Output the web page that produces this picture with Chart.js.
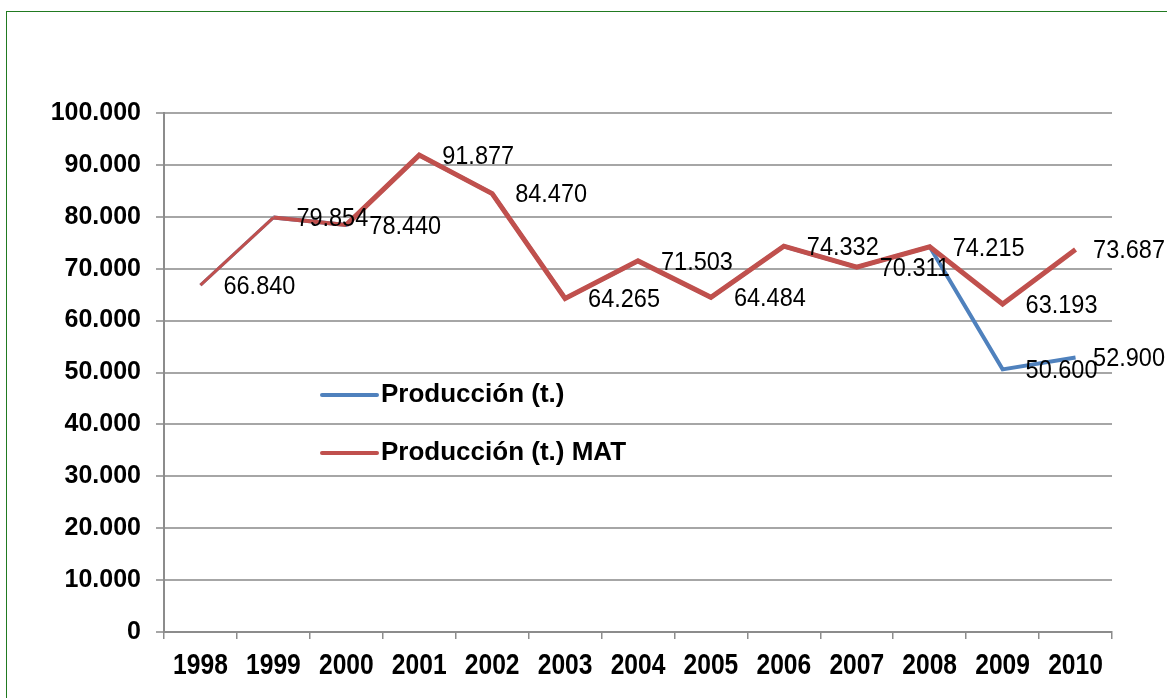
<!DOCTYPE html>
<html>
<head>
<meta charset="utf-8">
<script src="https://cdn.jsdelivr.net/npm/chart.js@4/dist/chart.umd.min.js"></script>
<style>
  html, body { margin: 0; padding: 0; background: #fff; overflow: hidden; }
  .frame { position: absolute; left: 6px; top: 11px; width: 1200px; height: 720px; border: 1px solid #217a21; }
  #chart { position: absolute; left: 0; top: 0; }
</style>
</head>
<body>
<div class="frame"></div>
<canvas id="chart" width="1167" height="698"></canvas>
<script>
/* Data */
const years = ["1998", "1999", "2000", "2001", "2002", "2003", "2004", "2005", "2006", "2007", "2008", "2009", "2010"];
const produccion = [66840, 79854, 78440, 91877, 84470, 64265, 71503, 64484, 74332, 70311, 74215, 50600, 52900];
const produccionMat = [66840, 79854, 78440, 91877, 84470, 64265, 71503, 64484, 74332, 70311, 74215, 63193, 73687];
const yTicks = [0, 10000, 20000, 30000, 40000, 50000, 60000, 70000, 80000, 90000, 100000];

const seriesNames = ["Producción (t.)", "Producción (t.) MAT"];
const blue = "#4f81bd";
const red = "#c0504d";

function fmt(v) {
  return String(v).replace(/\B(?=(\d{3})+(?!\d))/g, ".");
}

/* Value labels next to points */
const valueLabels = {
  id: "valueLabels",
  afterDatasetsDraw(chart) {
    const ctx = chart.ctx;
    const sx = 0.94;
    ctx.save();
    ctx.font = "25px 'Liberation Sans', Arial, sans-serif";
    ctx.fillStyle = "#000";
    ctx.textAlign = "left";
    ctx.textBaseline = "middle";
    chart.data.datasets.forEach((ds, i) => {
      const meta = chart.getDatasetMeta(i);
      ds.labelIdx.forEach((k) => {
        const pt = meta.data[k];
        const txt = fmt(ds.data[k]);
        const w = ctx.measureText(txt).width * sx;
        const x = Math.min(pt.x + 23, chart.width - 2 - w);
        const y = pt.y + 2;
        ctx.save();
        ctx.translate(x, y);
        ctx.scale(sx, 1);
        ctx.fillText(txt, 0, 0);
        ctx.restore();
      });
    });
    ctx.restore();
  },
};

/* Narrow bold year labels under the x axis */
const yearLabels = {
  id: "yearLabels",
  afterDraw(chart) {
    const ctx = chart.ctx;
    const xs = chart.scales.x;
    ctx.save();
    ctx.font = "bold 30px 'Liberation Sans', Arial, sans-serif";
    ctx.fillStyle = "#000";
    ctx.textAlign = "center";
    ctx.textBaseline = "middle";
    years.forEach((yr, i) => {
      ctx.save();
      ctx.translate(xs.getPixelForTick(i), chart.chartArea.bottom + 34);
      ctx.scale(0.82, 1);
      ctx.fillText(yr, 0, 0);
      ctx.restore();
    });
    ctx.restore();
  },
};

/* Legend drawn inside the plot */
const innerLegend = {
  id: "innerLegend",
  afterDraw(chart) {
    const ctx = chart.ctx;
    const a = chart.chartArea;
    const x0 = a.left + 158;
    const rows = [a.top + 282, a.top + 340];
    ctx.save();
    ctx.font = "bold 26px 'Liberation Sans', Arial, sans-serif";
    ctx.textBaseline = "middle";
    ctx.fillStyle = "#000";
    [blue, red].forEach((c, i) => {
      ctx.strokeStyle = c;
      ctx.lineWidth = 4;
      ctx.lineCap = "round";
      ctx.beginPath();
      ctx.moveTo(x0, rows[i]);
      ctx.lineTo(x0 + 55, rows[i]);
      ctx.stroke();
      ctx.fillText(seriesNames[i], x0 + 59, rows[i]);
    });
    ctx.restore();
  },
};

const ctx = document.getElementById("chart").getContext("2d");

const config = {
  type: "line",
  data: {
    labels: years,
    datasets: [
      {
        label: seriesNames[0],
        data: produccion,
        borderColor: blue,
        borderWidth: 4,
        pointRadius: 0,
        tension: 0,
        order: 1,
        segment: {
          borderWidth: (c) => (c.p0DataIndex === 0 ? 3 : 4),
        },
        labelIdx: [11, 12],
      },
      {
        label: seriesNames[1],
        data: produccionMat,
        borderColor: red,
        borderWidth: 5,
        pointRadius: 0,
        tension: 0,
        order: 0,
        segment: {
          borderWidth: (c) => (c.p0DataIndex === 0 ? 3 : c.p0DataIndex === 1 ? 4 : 5),
        },
        labelIdx: [0, 1, 2, 3, 4, 5, 6, 7, 8, 9, 10, 11, 12],
      },
    ],
  },
  options: {
    responsive: false,
    animation: false,
    layout: {
      padding: { left: 0, top: 113, right: 55, bottom: 0 },
    },
    plugins: {
      legend: { display: false },
      tooltip: { enabled: false },
    },
    scales: {
      x: {
        offset: true,
        grid: {
          offset: true,
          drawOnChartArea: false,
          color: "#8c8c8c",
          lineWidth: 1.5,
          tickLength: 7,
        },
        border: { color: "#8c8c8c", width: 2 },
        ticks: {
          color: "rgba(0,0,0,0)",
          font: { family: "'Liberation Sans', Arial", size: 20, weight: "bold" },
          padding: 10,
          maxRotation: 0,
          autoSkip: false,
        },
        afterFit(scale) {
          scale.height = 66;
        },
      },
      y: {
        min: 0,
        max: 100000,
        afterBuildTicks(scale) {
          scale.ticks = yTicks.map((v) => ({ value: v }));
        },
        grid: {
          color: "#a6a6a6",
          lineWidth: 2,
          tickLength: 8,
        },
        border: { color: "#8c8c8c", width: 2 },
        ticks: {
          color: "#000",
          font: { family: "'Liberation Sans', Arial", size: 25, weight: "bold" },
          padding: 15,
          callback: function (value) {
            return fmt(value);
          },
        },
        afterFit(scale) {
          scale.width = 164;
        },
      },
    },
  },
  plugins: [valueLabels, yearLabels, innerLegend],
};

const myChart = new Chart(ctx, config);
</script>
</body>
</html>
